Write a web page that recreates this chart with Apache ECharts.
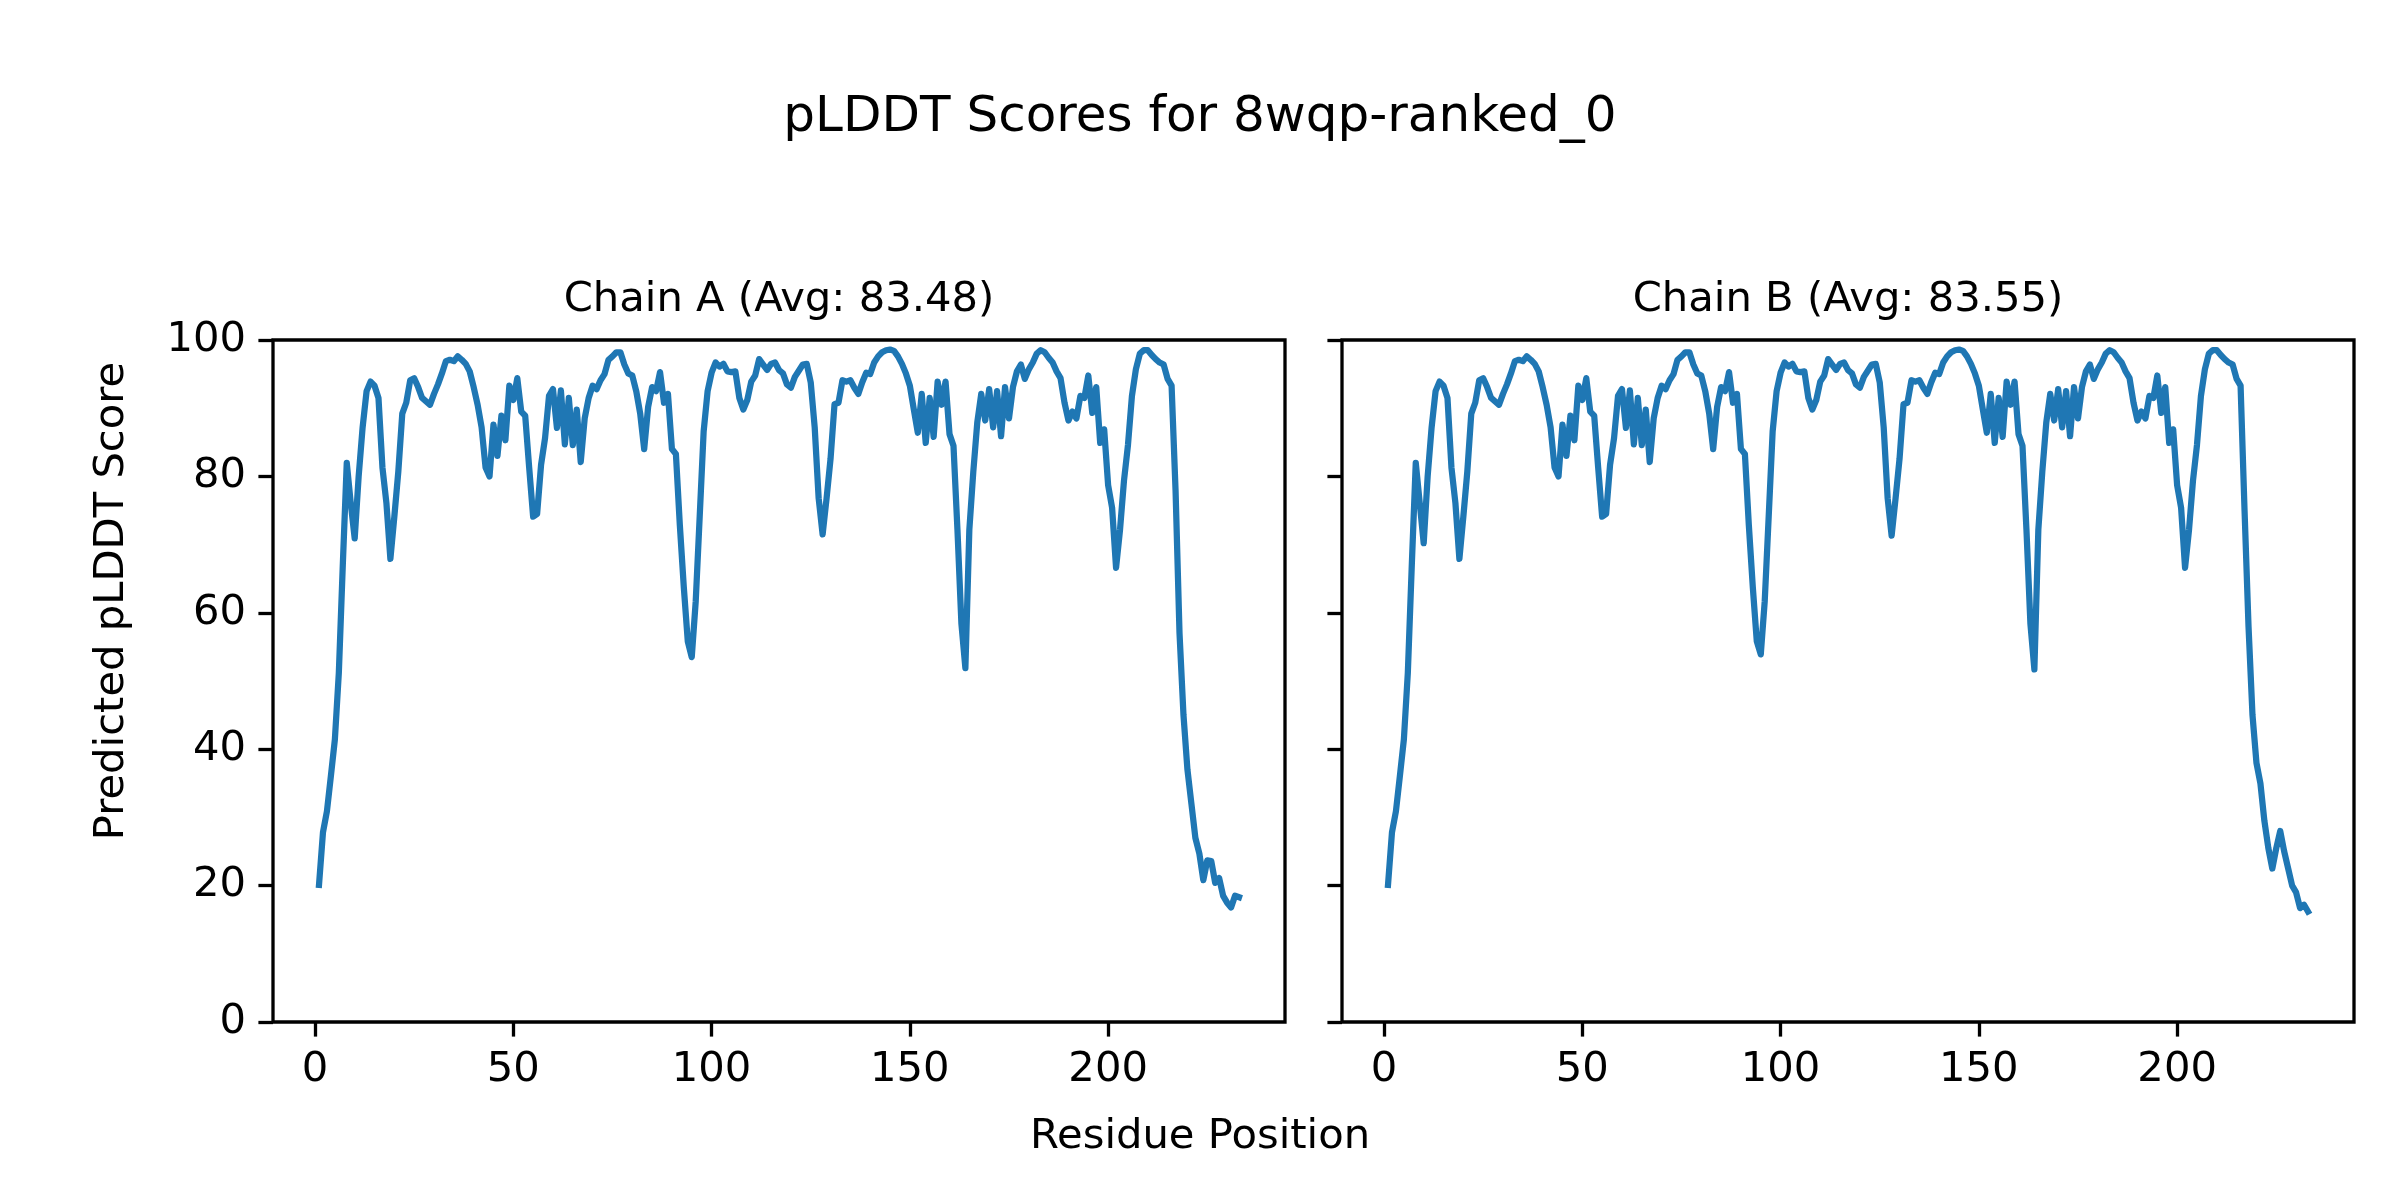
<!DOCTYPE html>
<html>
<head>
<meta charset="utf-8">
<script src="https://cdn.jsdelivr.net/npm/echarts@6/dist/echarts.min.js"></script>
<style>
html,body{margin:0;padding:0;background:#fff;}
#c{width:2400px;height:1200px;}
</style>
</head>
<body>
<div id="c"></div>
<script>
// ---- DATA ----
const mainTitle = 'pLDDT Scores for 8wqp-ranked_0';
const chainTitles = ['Chain A (Avg: 83.48)', 'Chain B (Avg: 83.55)'];
const xLabel = 'Residue Position';
const yLabel = 'Predicted pLDDT Score';
const xTicks = [0, 50, 100, 150, 200];
const yTicks = [0, 20, 40, 60, 80, 100];

const chainA = [
  20.1, 27.8, 30.9, 36.1, 41.4, 51.2, 67.0, 82.0, 76.1, 70.9,
  80.0, 87.2, 92.5, 93.9, 93.3, 91.5, 81.3, 76.1, 67.9, 74.1,
  80.7, 89.2, 90.8, 94.1, 94.4, 93.1, 91.5, 91.0, 90.5, 92.1,
  93.5, 95.1, 96.9, 97.1, 96.9, 97.6, 97.1, 96.5, 95.4, 93.1,
  90.5, 87.2, 81.3, 80.0, 87.6, 83.0, 88.9, 85.3, 93.3, 91.2,
  94.4, 89.5, 88.9, 81.3, 74.1, 74.5, 81.7, 85.6, 91.8, 92.8,
  87.1, 92.6, 84.7, 91.5, 84.6, 89.8, 82.1, 88.5, 91.5, 93.3,
  92.8, 94.1, 95.0, 97.1, 97.6, 98.2, 98.2, 96.4, 95.1, 94.8,
  92.5, 89.2, 84.0, 90.2, 93.1, 92.5, 95.3, 90.8, 92.1, 84.0,
  83.3, 72.8, 63.7, 55.8, 53.5, 61.7, 74.1, 86.6, 92.5, 95.2,
  96.7, 96.1, 96.5, 95.4, 95.3, 95.4, 91.5, 89.8, 91.2, 93.9,
  94.8, 97.2, 96.4, 95.6, 96.5, 96.7, 95.6, 95.1, 93.5, 93.0,
  94.6, 95.5, 96.4, 96.5, 93.8, 87.2, 76.8, 71.5, 76.8, 82.6,
  90.6, 90.8, 94.1, 93.9, 94.1, 93.0, 92.1, 93.8, 95.2, 95.0,
  96.7, 97.6, 98.2, 98.5, 98.6, 98.4, 97.6, 96.5, 95.1, 93.3,
  89.8, 86.4, 92.1, 84.9, 91.5, 85.8, 93.9, 90.5, 93.9, 86.2,
  84.5, 72.2, 58.4, 51.9, 72.2, 80.7, 87.9, 92.1, 88.2, 92.8,
  87.2, 92.5, 85.9, 93.1, 88.5, 93.1, 95.4, 96.4, 94.3, 95.7,
  96.7, 98.0, 98.5, 98.2, 97.4, 96.7, 95.4, 94.4, 90.8, 88.2,
  89.5, 88.5, 91.8, 91.5, 94.8, 89.3, 93.1, 84.9, 86.9, 78.7,
  75.4, 66.6, 72.2, 79.4, 84.6, 91.8, 95.7, 98.0, 98.5, 98.5,
  97.8, 97.2, 96.7, 96.4, 94.3, 93.3, 78.0, 57.0, 45.0, 37.0,
  32.0, 27.0, 24.7, 20.8, 23.7, 23.6, 20.4, 21.1, 18.5, 17.5,
  16.8, 18.5, 18.3
];

const chainB = [
  20.1, 27.8, 30.9, 36.1, 41.4, 51.2, 67.0, 82.0, 76.1, 70.2,
  80.0, 87.2, 92.5, 93.9, 93.3, 91.5, 81.3, 76.1, 67.9, 74.1,
  80.7, 89.2, 90.8, 94.1, 94.4, 93.1, 91.5, 91.0, 90.5, 92.1,
  93.5, 95.1, 96.9, 97.1, 96.9, 97.6, 97.1, 96.5, 95.4, 93.1,
  90.5, 87.2, 81.3, 80.0, 87.6, 83.0, 88.9, 85.3, 93.3, 91.2,
  94.4, 89.5, 88.9, 81.3, 74.1, 74.5, 81.7, 85.6, 91.8, 92.8,
  87.1, 92.6, 84.7, 91.5, 84.6, 89.8, 82.1, 88.5, 91.5, 93.3,
  92.8, 94.1, 95.0, 97.1, 97.6, 98.2, 98.2, 96.4, 95.1, 94.8,
  92.5, 89.2, 84.0, 90.2, 93.1, 92.5, 95.3, 90.8, 92.1, 84.0,
  83.3, 72.8, 63.7, 55.8, 53.9, 61.7, 74.1, 86.6, 92.5, 95.2,
  96.7, 96.1, 96.5, 95.4, 95.3, 95.4, 91.5, 89.8, 91.2, 93.9,
  94.8, 97.2, 96.4, 95.6, 96.5, 96.7, 95.6, 95.1, 93.5, 93.0,
  94.6, 95.5, 96.4, 96.5, 93.8, 87.2, 76.8, 71.3, 76.8, 82.6,
  90.6, 90.8, 94.1, 93.9, 94.1, 93.0, 92.1, 93.8, 95.2, 95.0,
  96.7, 97.6, 98.2, 98.5, 98.6, 98.4, 97.6, 96.5, 95.1, 93.3,
  89.8, 86.4, 92.1, 84.9, 91.5, 85.8, 93.9, 90.5, 93.9, 86.2,
  84.5, 72.2, 58.4, 51.7, 72.2, 80.7, 87.9, 92.1, 88.2, 92.8,
  87.2, 92.5, 85.9, 93.1, 88.5, 93.1, 95.4, 96.4, 94.3, 95.7,
  96.7, 98.0, 98.5, 98.2, 97.4, 96.7, 95.4, 94.4, 90.8, 88.2,
  89.5, 88.5, 91.8, 91.5, 94.8, 89.3, 93.1, 84.9, 86.9, 78.7,
  75.4, 66.6, 72.2, 79.4, 84.6, 91.8, 95.7, 98.0, 98.5, 98.5,
  97.8, 97.2, 96.7, 96.4, 94.3, 93.3, 75.0, 58.0, 45.0, 38.0,
  35.0, 29.5, 25.5, 22.5, 25.5, 28.0, 25.0, 22.5, 20.0, 19.0,
  16.7, 17.2, 16.2
];

// ---- CHART ----
const FONT = '"DejaVu Sans", "Liberation Sans", sans-serif';
const toPairs = arr => arr.map((v, i) => [i + 1, v]);
const n = chainA.length;
const xPad = (n - 1) * 0.05;
const xMin = 1 - xPad, xMax = n + xPad;

const gridTop = 340, gridH = 682, gridW = 1012;
const gridLefts = [273, 1342];

function makeX(idx) {
  return {
    gridIndex: idx, type: 'value', min: xMin, max: xMax, position: 'bottom',
    axisLine: { show: false, onZero: false },
    splitLine: { show: false },
    axisTick: { show: true, customValues: xTicks, length: 14.6, inside: false,
      lineStyle: { color: '#000', width: 3.3 } },
    axisLabel: { show: true, customValues: xTicks, margin: 27, fontSize: 41.7,
      color: '#000', fontFamily: FONT }
  };
}
function makeY(idx, showLabels) {
  return {
    gridIndex: idx, type: 'value', min: 0, max: 100, interval: 20, position: 'left',
    axisLine: { show: false, onZero: false },
    splitLine: { show: false },
    axisTick: { show: true, length: 14.6, inside: false,
      lineStyle: { color: '#000', width: 3.3 } },
    axisLabel: { show: showLabels, margin: 27, fontSize: 41.7,
      color: '#000', fontFamily: FONT }
  };
}
function makeSeries(idx, arr) {
  return {
    type: 'line', xAxisIndex: idx, yAxisIndex: idx,
    data: toPairs(arr), showSymbol: false, symbol: 'none',
    lineStyle: { color: '#1f77b4', width: 6.25, join: 'round', cap: 'square' },
    animation: false, silent: true
  };
}

const chart = echarts.init(document.getElementById('c'), null, { width: 2400, height: 1200 });
chart.setOption({
  backgroundColor: '#fff',
  animation: false,
  grid: gridLefts.map(l => ({
    left: l, top: gridTop, width: gridW, height: gridH,
    show: true, borderColor: '#000', borderWidth: 3.3, backgroundColor: 'transparent',
    containLabel: false
  })),
  xAxis: [makeX(0), makeX(1)],
  yAxis: [makeY(0, true), makeY(1, false)],
  series: [makeSeries(0, chainA), makeSeries(1, chainB)],
  graphic: [
    { type: 'text', x: 1200, y: 118, style: { text: mainTitle, font: '50px ' + FONT, fill: '#000',
      textAlign: 'center', textVerticalAlign: 'middle', align: 'center', verticalAlign: 'middle' } },
    { type: 'text', x: gridLefts[0] + gridW / 2, y: 300, style: { text: chainTitles[0], font: '41.7px ' + FONT, fill: '#000',
      textAlign: 'center', textVerticalAlign: 'middle', align: 'center', verticalAlign: 'middle' } },
    { type: 'text', x: gridLefts[1] + gridW / 2, y: 300, style: { text: chainTitles[1], font: '41.7px ' + FONT, fill: '#000',
      textAlign: 'center', textVerticalAlign: 'middle', align: 'center', verticalAlign: 'middle' } },
    { type: 'text', x: 1200, y: 1137, style: { text: xLabel, font: '41.7px ' + FONT, fill: '#000',
      textAlign: 'center', textVerticalAlign: 'middle', align: 'center', verticalAlign: 'middle' } },
    { type: 'text', x: 112, y: 601, rotation: Math.PI / 2, style: { text: yLabel, font: '41.7px ' + FONT, fill: '#000',
      textAlign: 'center', textVerticalAlign: 'middle', align: 'center', verticalAlign: 'middle' } }
  ]
});
</script>
</body>
</html>
